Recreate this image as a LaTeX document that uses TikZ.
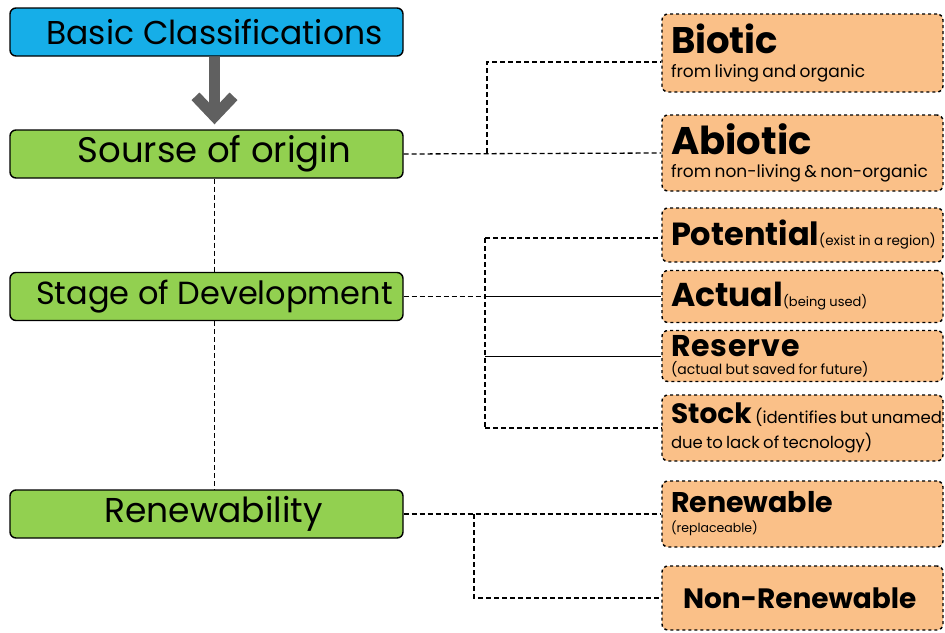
\documentclass[tikz,border=0pt]{standalone}
\usepackage{fontspec}
\setmainfont{Poppins}
\usetikzlibrary{arrows.meta}

\definecolor{topblue}{RGB}{22,174,232}
\definecolor{catgreen}{RGB}{146,208,80}
\definecolor{kindorange}{RGB}{250,192,136}
\definecolor{arrowgray}{RGB}{96,96,96}

\tikzset{
	topbox/.style={draw=black, line width=1.4pt, fill=topblue, rounded corners=6pt, minimum width=393pt, minimum height=48pt, inner sep=0pt, font=\fontsize{33}{34}\selectfont},
	catbox/.style={draw=black, line width=1.4pt, fill=catgreen, rounded corners=6pt, minimum width=393pt, minimum height=48pt, inner sep=0pt, font=\fontsize{33}{34}\selectfont},
	kindbox/.style={draw=black, dashed, line width=1.4pt, fill=kindorange, rounded corners=6pt, text width=263pt, inner xsep=9pt, inner ysep=0pt, align=left},
	link/.style={line width=1.3pt, dash pattern=on 5pt off 3pt},
	bar/.style={line width=1pt}
}

\begin{document}
\begin{tikzpicture}[x=1pt,y=-1pt]
	\def\kx{802.5} % centre of the right column
	\def\head#1{{\fontsize{32}{32}\selectfont\bfseries #1}}
	\def\note#1{{\fontsize{16.5}{16}\selectfont #1}}
	\useasboundingbox (0,0) rectangle (945,632);
	
	\node[topbox] (basic) at (206.5,32) {\hspace{16pt}Basic Classifications};
	\node[catbox, font=\fontsize{35.5}{36}\selectfont] (origin) at (206.5,154) {\hspace{16pt}Sourse of origin};
	\node[catbox, font=\fontsize{32}{34}\selectfont] (stage) at (206.5,296.5) {\hspace{16pt}Stage of Development};
	\node[catbox, font=\fontsize{34.5}{36}\selectfont] (renew) at (206.5,514) {\hspace{14pt}Renewability};
	
	\draw[link] ([xshift=8pt]origin.south) -- ([xshift=8pt]stage.north);
	\draw[link] ([xshift=8pt]stage.south) -- ([xshift=8pt]renew.north);
	\draw[arrowgray, line width=11pt, shorten >=5pt, -{Straight Barb[length=20pt,width=38pt]}] ([xshift=8pt]basic.south) -- ([xshift=8pt]origin.north);
	
	% source of origin
	\node[kindbox, minimum height=78pt] (biotic) at (\kx,53) {{\fontsize{37}{34}\selectfont\bfseries Biotic}\\[9pt] {\fontsize{17}{16}\selectfont from living and organic}};
	\node[kindbox, minimum height=76pt] (abiotic) at (\kx,153) {{\fontsize{38.5}{34}\selectfont\bfseries Abiotic}\\[9pt] {\fontsize{17}{16}\selectfont from non-living \& non-organic}};
	\coordinate (j1) at (487,153);
	\draw[link] (origin.east) -- (abiotic.west);
	\draw[link] (j1) |- ([yshift=-9pt]biotic.west);
	
	% stage of development
	\node[kindbox, minimum height=54pt] (potential) at (\kx,235) {\mbox{\head{Potential}\fontsize{13.5}{14}\selectfont(exist in a region)}};
	\node[kindbox, minimum height=52pt] (actual) at (\kx,296.5) {{\fontsize{33}{32}\selectfont\bfseries Actual}\fontsize{13}{14}\selectfont(being used)};
	\node[kindbox, minimum height=51pt] (reserve) at (\kx,356) {{\fontsize{30}{32}\selectfont\bfseries\addfontfeature{LetterSpace=3}Reserve}\\[4pt] {\fontsize{14}{13}\selectfont(actual but saved for future)}};
	\node[kindbox, minimum height=66pt] (stock) at (\kx,428) {\mbox{{\fontsize{28}{32}\selectfont\bfseries Stock} \note{(identifies but unamed}}\\[5pt] \note{due to lack of tecnology)}};
	\coordinate (j2) at (485,296.5);
	\draw[link] (stage.east) -- (j2);
	\draw[bar] (j2) -- (actual.west);
	\draw[link] (j2 |- 0,238) -- ([yshift=-3pt]potential.west);
	\draw[link] (j2 |- 0,238) -- (j2 |- stock.west);
	\draw[link] (j2 |- stock.west) -- (stock.west);
	\draw[bar] (j2 |- reserve.west) -- (reserve.west);
	
	% renewability
	\node[kindbox, minimum height=66pt] (renewable) at (\kx,514) {{\fontsize{28.5}{32}\selectfont\bfseries Renewable}\\[8pt] {\fontsize{12.5}{14}\selectfont(replaceable)}};
	\node[kindbox, minimum height=64pt] (nonrenewable) at (\kx,598) {\hspace{12pt}{\fontsize{28}{30}\selectfont\bfseries Non-Renewable}};
	\coordinate (j3) at (474,514);
	\draw[link] (renew.east) -- (renewable.west);
	\draw[link] (j3) |- (nonrenewable.west);
\end{tikzpicture}
\end{document}
